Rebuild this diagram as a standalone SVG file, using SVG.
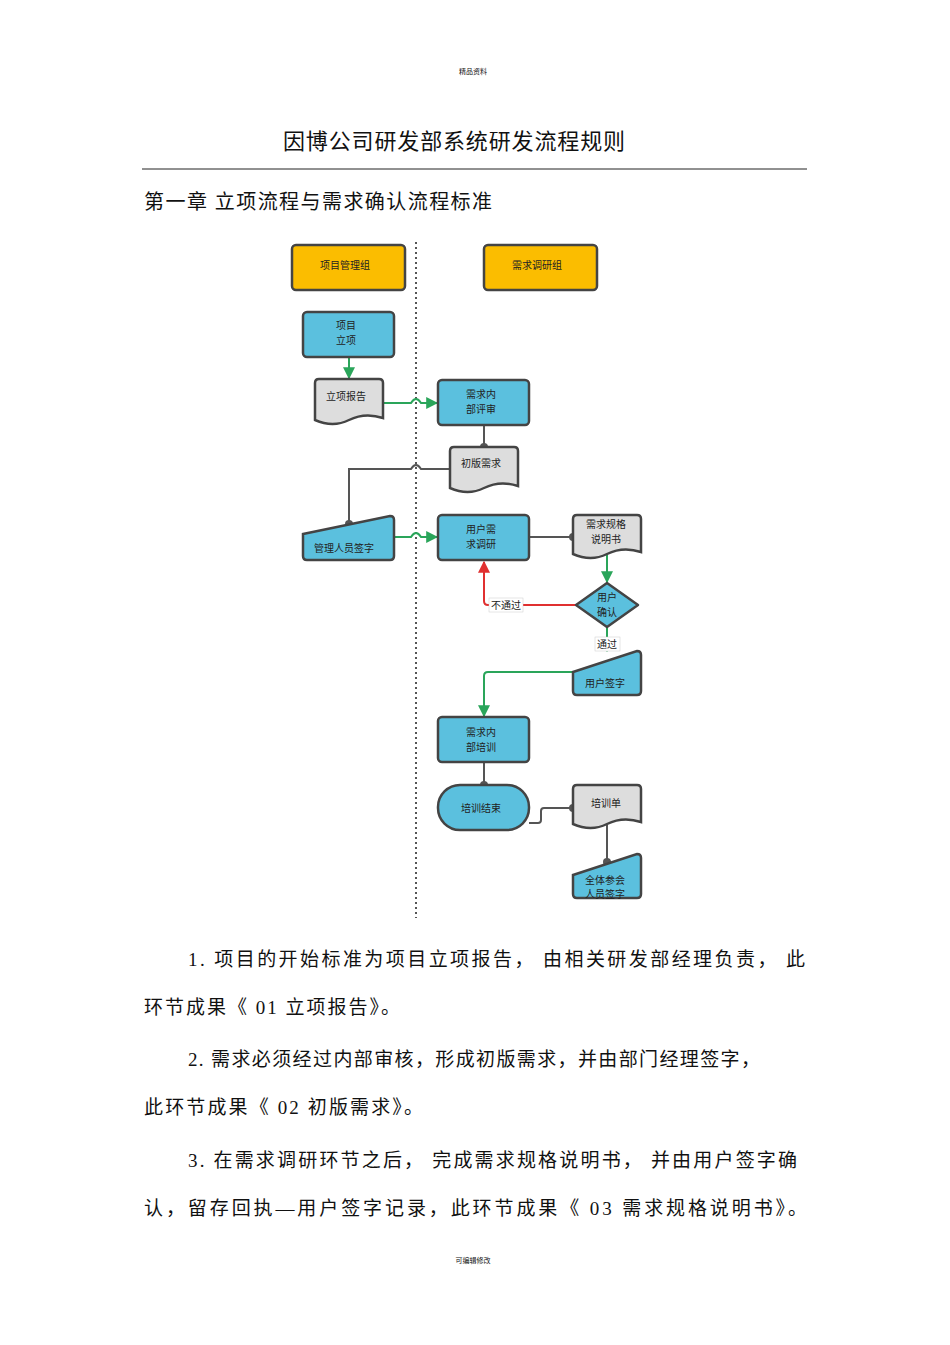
<svg xmlns="http://www.w3.org/2000/svg" width="950" height="1345" viewBox="0 0 950 1345">
<defs>
<style>
.t{font-family:"Liberation Serif","Noto Sans CJK SC",serif;fill:#111}
.s{font-family:"Liberation Serif","Noto Sans CJK SC",serif;font-size:10px;fill:#222;text-anchor:middle}
.b{stroke:#444;stroke-width:2.5;fill:#5bc0de}
.y{stroke:#444;stroke-width:2.5;fill:#fbbd00}
.g{stroke:#444;stroke-width:2.5;fill:#ddd}
.cg{stroke:#2aa55a;stroke-width:2;fill:none}
.ck{stroke:#555;stroke-width:2;fill:none}
.cr{stroke:#e03030;stroke-width:2;fill:none}
</style>
<marker id="ag" viewBox="0 0 10 10" refX="9" refY="5" markerWidth="6" markerHeight="6" orient="auto"><path d="M0,0L10,5L0,10z" fill="#2aa55a"/></marker>
<marker id="ar" viewBox="0 0 10 10" refX="9" refY="5" markerWidth="6" markerHeight="6" orient="auto"><path d="M0,0L10,5L0,10z" fill="#e03030"/></marker>
<marker id="dt" viewBox="0 0 10 10" refX="5" refY="5" markerWidth="4" markerHeight="4"><circle cx="5" cy="5" r="5" fill="#555"/></marker>
</defs>
<rect width="950" height="1345" fill="#fff"/>
<text x="473" y="74" font-size="7" text-anchor="middle" class="t">精品资料</text>
<text x="283" y="149" font-size="22" textLength="342" lengthAdjust="spacing" class="t">因博公司研发部系统研发流程规则</text>
<line x1="142" y1="169" x2="807" y2="169" stroke="#222" stroke-width="1"/>
<text x="144" y="209" font-size="20" textLength="348" lengthAdjust="spacing" class="t">第一章   立项流程与需求确认流程标准</text>
<line x1="416" y1="242" x2="416" y2="918" stroke="#555" stroke-width="2" stroke-dasharray="2,3"/>
<g id="connectors">
<path class="cg" d="M349,357V378" marker-end="url(#ag)"/>
<path class="cg" d="M383,403H411q5,-8 10,0H437" marker-end="url(#ag)"/>
<path class="ck" d="M484,425V447" marker-end="url(#dt)"/>
<path class="ck" d="M450,469H421q-5,-8 -10,0H349V524" marker-end="url(#dt)"/>
<path class="cg" d="M394,537H411q5,-8 10,0H437" marker-end="url(#ag)"/>
<path class="ck" d="M529,537H573" marker-end="url(#dt)"/>
<path class="cg" d="M607,555V582" marker-end="url(#ag)"/>
<path class="cr" d="M576,605H488q-4,0 -4,-4V562" marker-end="url(#ar)"/>
<path class="cg" d="M607,627V651" marker-end="url(#ag)"/>
<path class="cg" d="M573,672H488q-4,0 -4,4V716" marker-end="url(#ag)"/>
<path class="ck" d="M484,762V785" marker-end="url(#dt)"/>
<path class="ck" d="M529,823H538q3,0 3,-3V811q0,-3 3,-3H573" marker-end="url(#dt)"/>
<path class="ck" d="M607,825V862" marker-end="url(#dt)"/>
<rect x="489" y="598" width="34" height="14" fill="#fff" stroke="#ccc" stroke-width=".5"/>
<text x="506" y="609" class="s">不通过</text>
<rect x="595" y="637" width="25" height="14" fill="#fff" stroke="#ccc" stroke-width=".5"/>
<text x="607" y="648" class="s">通过</text>
</g>
<g id="n1"><rect x="292" y="245" width="113" height="45" rx="4" class="y"/><text x="345" y="269" class="s">项目管理组</text></g>
<g id="n2"><rect x="484" y="245" width="113" height="45" rx="4" class="y"/><text x="537" y="269" class="s">需求调研组</text></g>
<g id="n3"><rect x="303" y="312" width="91" height="45" rx="4" class="b"/><text x="346" y="329" class="s">项目</text><text x="346" y="344" class="s">立项</text></g>
<g id="n4"><path class="g" d="M319,379H379q4,0 4,4V418q-18,-6 -34,2t-34,0V383q0,-4 4,-4z"/><text x="346" y="400" class="s">立项报告</text></g>
<g id="n5"><rect x="438" y="380" width="91" height="45" rx="4" class="b"/><text x="481" y="398" class="s">需求内</text><text x="481" y="413" class="s">部评审</text></g>
<g id="n6"><path class="g" d="M454,447H514q4,0 4,4V486q-18,-6 -34,2t-34,0V451q0,-4 4,-4z"/><text x="481" y="467" class="s">初版需求</text></g>
<g id="n7"><path class="b" d="M303,534L390,516q4,0 4,4V556q0,4 -4,4H307q-4,0 -4,-4z"/><text x="344" y="552" class="s">管理人员签字</text></g>
<g id="n8"><rect x="438" y="515" width="91" height="45" rx="4" class="b"/><text x="481" y="533" class="s">用户需</text><text x="481" y="548" class="s">求调研</text></g>
<g id="n9"><path class="g" d="M577,515H637q4,0 4,4V552q-18,-6 -34,2t-34,0V519q0,-4 4,-4z"/><text x="606" y="528" class="s">需求规格</text><text x="606" y="543" class="s">说明书</text></g>
<g id="n10"><path class="b" d="M607,583L638,605L607,627L576,605z" stroke-linejoin="round"/><text x="607" y="601" class="s">用户</text><text x="607" y="616" class="s">确认</text></g>
<g id="n11"><path class="b" d="M573,672L637,651q4,0 4,4V691q0,4 -4,4H577q-4,0 -4,-4z"/><text x="605" y="687" class="s">用户签字</text></g>
<g id="n12"><rect x="438" y="717" width="91" height="45" rx="4" class="b"/><text x="481" y="736" class="s">需求内</text><text x="481" y="751" class="s">部培训</text></g>
<g id="n13"><rect x="438" y="785" width="91" height="45" rx="22" class="b"/><text x="481" y="812" class="s">培训结束</text></g>
<g id="n14"><path class="g" d="M577,785H637q4,0 4,4V822q-18,-6 -34,2t-34,0V789q0,-4 4,-4z"/><text x="606" y="807" class="s">培训单</text></g>
<g id="n15"><path class="b" d="M573,875L637,854q4,0 4,4V894q0,4 -4,4H577q-4,0 -4,-4z"/><text x="605" y="884" class="s">全体参会</text><text x="605" y="898" class="s">人员签字</text></g>
<g font-size="19" class="t">
<text x="188" y="966" textLength="617" lengthAdjust="spacing" class="t">1. 项目的开始标准为项目立项报告，   由相关研发部经理负责，   此</text>
<text x="144" y="1014" textLength="256" lengthAdjust="spacing" class="t">环节成果《 01  立项报告》。</text>
<text x="188" y="1066" textLength="572" lengthAdjust="spacing" class="t">2. 需求必须经过内部审核，形成初版需求，并由部门经理签字，</text>
<text x="144" y="1114" textLength="279" lengthAdjust="spacing" class="t">此环节成果《 02  初版需求》。</text>
<text x="188" y="1167" textLength="609" lengthAdjust="spacing" class="t">3. 在需求调研环节之后，   完成需求规格说明书，   并由用户签字确</text>
<text x="144" y="1215" textLength="663" lengthAdjust="spacing" class="t">认，留存回执—用户签字记录，此环节成果《    03  需求规格说明书》。</text>
</g>
<text x="473" y="1263" font-size="7" text-anchor="middle" class="t">可编辑修改</text>
</svg>
